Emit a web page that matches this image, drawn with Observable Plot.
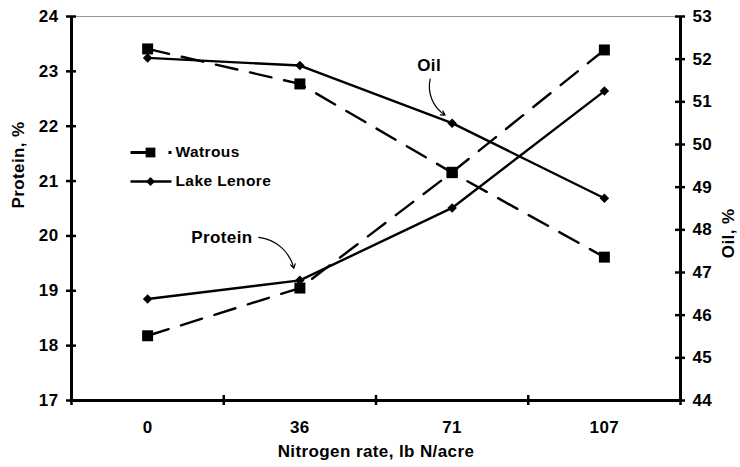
<!DOCTYPE html>
<html>
<head>
<meta charset="utf-8">
<script src="https://cdn.jsdelivr.net/npm/d3@7"></script>
<script src="https://cdn.jsdelivr.net/npm/@observablehq/plot@0.6"></script>
<style>
  html, body { margin: 0; padding: 0; background: #fff; }
  #chart svg text { font-family: "Liberation Sans", Arial, sans-serif; font-weight: 700; letter-spacing: 0.4px; }
</style>
</head>
<body>
<div id="chart"></div>
<script>
// ---- data ----
const categories = ["0", "36", "71", "107"];
const watrousProtein = [18.18, 19.05, 21.16, 23.39];
const lenoreProtein  = [18.85, 19.19, 20.51, 22.64];
const watrousOil     = [52.24, 51.42, 49.34, 47.36];
const lenoreOil      = [52.03, 51.85, 50.50, 48.74];
const proteinTicks = [17, 18, 19, 20, 21, 22, 23, 24];
const oilTicks = [44, 45, 46, 47, 48, 49, 50, 51, 52, 53];
const seriesNames = ["Watrous", "Lake Lenore"];

// ---- layout ----
const W = 740, H = 467, mL = 71, mR = 60, mT = 16, mB = 67;
const xDomain = [-0.5, categories.length - 0.5];
const yDomain = [17, 24];
const oilDomain = [44, 53];
const xUnit = (W - mL - mR) / (xDomain[1] - xDomain[0]);
const yUnit = (H - mT - mB) / (yDomain[1] - yDomain[0]);
const px2x = p => p / xUnit;
const px2y = p => -p / yUnit;
// oil value -> left (protein) axis coordinate
const oilToY = v => yDomain[0] + (v - oilDomain[0]) * (yDomain[1] - yDomain[0]) / (oilDomain[1] - oilDomain[0]);

const build = (series, trait, vals, conv) => vals.map((v, i) => ({series, trait, i, value: v, y: conv(v)}));
const watrous = [...build("Watrous", "Protein", watrousProtein, v => v), ...build("Watrous", "Oil", watrousOil, oilToY)];
const lenore  = [...build("Lake Lenore", "Protein", lenoreProtein, v => v), ...build("Lake Lenore", "Oil", lenoreOil, oilToY)];

const FS = 17;
const FW = "bold";
const dash = "22,13";
const tick = 5;

// legend anchor (data units)
const legX = xDomain[0] + px2x(59);
const legY0 = yDomain[1] + px2y(136);
const legGap = px2y(29);
const legendRows = seriesNames.map((s, k) => ({name: s, y: legY0 + k * legGap}));

// annotations anchored to data points
const oilTarget = {x: 2, y: oilToY(lenoreOil[2])};
const protTarget = {x: 1, y: lenoreProtein[1]};

const T = {fontSize: FS, fontWeight: FW, fill: "#000"};

const chart = Plot.plot({
  width: W, height: H,
  marginLeft: mL, marginRight: mR, marginTop: mT, marginBottom: mB,
  x: {type: "linear", domain: xDomain, axis: null},
  y: {type: "linear", domain: yDomain, axis: null},
  style: {fontFamily: "Liberation Sans, Arial, sans-serif", fontWeight: "bold", fontSize: FS + "px", background: "#fff"},
  marks: [
    // top border
    Plot.ruleY([yDomain[1]], {stroke: "#999", strokeWidth: 1}),
    // axes lines
    Plot.ruleX([xDomain[0], xDomain[1]], {stroke: "#000", strokeWidth: 3}),
    Plot.ruleY([yDomain[0]], {stroke: "#000", strokeWidth: 3}),
    // left ticks
    Plot.ruleY(proteinTicks, {y: d => d, x1: xDomain[0] - px2x(tick), x2: xDomain[0] + px2x(tick), stroke: "#000", strokeWidth: 2.5}),
    // right ticks
    Plot.ruleY(oilTicks, {y: d => oilToY(d), x1: xDomain[1] - px2x(tick), x2: xDomain[1] + px2x(tick), stroke: "#000", strokeWidth: 2.5}),
    // x ticks at category boundaries
    Plot.ruleX(d3.range(categories.length + 1).map(k => k - 0.5), {y1: yDomain[0] + px2y(-tick), y2: yDomain[0] + px2y(tick), stroke: "#000", strokeWidth: 2.5}),
    // tick labels
    Plot.text(proteinTicks, {x: xDomain[0], y: d => d, text: d => String(d), textAnchor: "end", dx: -13, ...T}),
    Plot.text(oilTicks, {x: xDomain[1], y: d => oilToY(d), text: d => String(d), textAnchor: "start", dx: 12, ...T}),
    Plot.text(categories, {x: (d, i) => i, y: yDomain[0], text: d => d, dy: 27, ...T}),
    // axis titles
    Plot.text(["Protein, %"], {frameAnchor: "left", rotate: -90, dx: -53, ...T}),
    Plot.text(["Oil, %"], {frameAnchor: "right", rotate: -90, dx: 48, ...T}),
    Plot.text(["Nitrogen rate, lb N/acre"], {frameAnchor: "bottom", dy: 56, ...T}),
    // data lines
    Plot.line(watrous, {x: "i", y: "y", z: "trait", stroke: "#000", strokeWidth: 2.4, strokeDasharray: dash}),
    Plot.line(lenore, {x: "i", y: "y", z: "trait", stroke: "#000", strokeWidth: 2.4}),
    Plot.dot(watrous, {x: "i", y: "y", symbol: "square", r: 6.2, fill: "#000"}),
    Plot.dot(lenore, {x: "i", y: "y", symbol: "square", r: 3.8, rotate: 45, fill: "#000"}),
    // legend
    Plot.link([legendRows[0]], {x1: legX, x2: legX + px2x(41), y1: "y", y2: "y", stroke: "#000", strokeWidth: 3, strokeDasharray: "16,22,4"}),
    Plot.link([legendRows[1]], {x1: legX, x2: legX + px2x(41), y1: "y", y2: "y", stroke: "#000", strokeWidth: 2.5}),
    Plot.dot([legendRows[0]], {x: legX + px2x(20), y: "y", symbol: "square", r: 5.5, fill: "#000"}),
    Plot.dot([legendRows[1]], {x: legX + px2x(20), y: "y", symbol: "square", r: 3.6, rotate: 45, fill: "#000"}),
    Plot.text(legendRows, {x: legX + px2x(45), y: "y", text: "name", textAnchor: "start", ...T, fontSize: 15.5}),
    // annotations
    Plot.text(["Oil"], {x: oilTarget.x + px2x(-23), y: oilTarget.y + px2y(-58), text: d => d, ...T}),
    Plot.arrow([oilTarget], {x1: d => d.x + px2x(-22), y1: d => d.y + px2y(-44), x2: d => d.x + px2x(-7), y2: d => d.y + px2y(-8), bend: -35, headLength: 6, stroke: "#000", strokeWidth: 1.2}),
    Plot.text(["Protein"], {x: protTarget.x + px2x(-78), y: protTarget.y + px2y(-43), text: d => d, ...T}),
    Plot.arrow([protTarget], {x1: d => d.x + px2x(-41), y1: d => d.y + px2y(-43), x2: d => d.x + px2x(-6), y2: d => d.y + px2y(-12), bend: 35, headLength: 6, stroke: "#000", strokeWidth: 1.2})
  ]
});
document.getElementById("chart").appendChild(chart);
</script>
</body>
</html>
